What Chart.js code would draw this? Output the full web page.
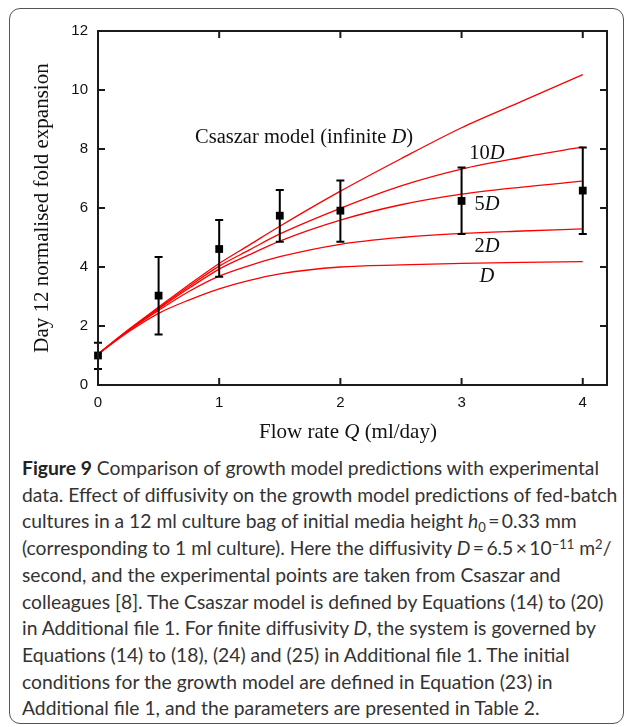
<!DOCTYPE html>
<html>
<head>
<meta charset="utf-8">
<script src="https://cdn.jsdelivr.net/npm/chart.js@4.4.1/dist/chart.umd.min.js"></script>
<style>
  body { margin: 0; background: #fff; }
  #frame {
    position: absolute; left: 9px; top: 8px; width: 615px; height: 716px;
    border: 1.5px solid #555; border-radius: 11px; box-sizing: border-box;
  }
  #plot { position: absolute; left: 0; top: 0; }
  #caption {
    position: absolute; left: 22px; top: 455px;
    font-family: Lato, 'Open Sans', sans-serif; font-size: 19.3px; line-height: 26.7px;
    color: #333; white-space: nowrap;
  }
  #caption b { color: #222; }
  #caption .sub, #caption .sup { font-size: 13px; position: relative; line-height: 0; }
  #caption .sub { top: 0.3em; }
  #caption .sup { top: -0.5em; }
</style>
</head>
<body>
<div id="frame"></div>
<canvas id="plot" width="627" height="450"></canvas>
<div id="caption">
<b>Figure 9</b> Comparison of growth model predictions with experimental<br>
data. Effect of diffusivity on the growth model predictions of fed-batch<br>
cultures in a 12 ml culture bag of initial media height <i>h</i><span class="sub">0</span>&#8201;=&#8201;0.33 mm<br>
(corresponding to 1 ml culture). Here the diffusivity <i>D</i>&#8201;=&#8201;6.5&#8201;×&#8201;10<span class="sup">−11</span> m<span class="sup">2</span>/<br>
second, and the experimental points are taken from Csaszar and<br>
colleagues [8]. The Csaszar model is defined by Equations (14) to (20)<br>
in Additional file 1. For finite diffusivity <i>D</i>, the system is governed by<br>
Equations (14) to (18), (24) and (25) in Additional file 1. The initial<br>
conditions for the growth model are defined in Equation (23) in<br>
Additional file 1, and the parameters are presented in Table 2.
</div>
<script>
// experimental points (Csaszar and colleagues)
var flowRate = [0, 0.5, 1, 1.5, 2, 3, 4];
var foldMean = [1.0, 3.03, 4.61, 5.74, 5.91, 6.24, 6.59];
var foldLow  = [0.54, 1.71, 3.67, 4.86, 4.86, 5.12, 5.12];
var foldHigh = [1.43, 4.34, 5.59, 6.61, 6.93, 7.37, 8.05];

// model curves
var modelQ   = [0, 0.25, 0.5, 0.75, 1, 1.25, 1.5, 2, 2.5, 3, 3.5, 4];
var csaszar  = [1.05, 1.87, 2.64, 3.4, 4.12, 4.75, 5.38, 6.57, 7.67, 8.72, 9.62, 10.52];
var diff10D  = [1.05, 1.86, 2.61, 3.34, 4.03, 4.58, 5.12, 5.99, 6.75, 7.32, 7.72, 8.07];
var diff5D   = [1.05, 1.85, 2.58, 3.28, 3.93, 4.42, 4.88, 5.59, 6.11, 6.47, 6.71, 6.91];
var diff2D   = [1.05, 1.84, 2.53, 3.17, 3.69, 4.05, 4.35, 4.77, 5.0, 5.14, 5.22, 5.29];
var diff1D   = [1.05, 1.8, 2.43, 2.88, 3.26, 3.55, 3.77, 4.0, 4.07, 4.12, 4.16, 4.18];

var xTickValues = [0, 1, 2, 3, 4];

// curve labels: [text before italic, italic part, text after, Q, fold]
var curveLabels = [
    ['Csaszar model (infinite ', 'D', ')', 1.70, 8.38],
    ['10', 'D', '', 3.21, 7.86],
    ['5', 'D', '', 3.21, 6.10],
    ['2', 'D', '', 3.21, 4.69],
    ['', 'D', '', 3.21, 3.66]
];

var serif = "'Liberation Serif', 'Times New Roman', serif";
var sans = "'Liberation Sans', Arial, sans-serif";

function pts(xs, ys) {
    return xs.map(function (x, i) { return { x: x, y: ys[i] }; });
}

function curve(values) {
    return {
        type: 'line',
        data: pts(modelQ, values),
        borderColor: '#ff0000',
        borderWidth: 1.3,
        pointRadius: 0,
        fill: false,
        cubicInterpolationMode: 'monotone'
    };
}

// draws a string with an italic middle part, centred on x
function drawRich(ctx, parts, x, y, size) {
    var fonts = [size + 'px ' + serif, 'italic ' + size + 'px ' + serif, size + 'px ' + serif];
    var widths = parts.map(function (p, i) { ctx.font = fonts[i]; return ctx.measureText(p).width; });
    var cx = x - (widths[0] + widths[1] + widths[2]) / 2;
    ctx.textAlign = 'left';
    ctx.textBaseline = 'middle';
    parts.forEach(function (p, i) {
        ctx.font = fonts[i];
        ctx.fillText(p, cx, y);
        cx += widths[i];
    });
}

var extras = {
    id: 'extras',
    beforeDatasetDraw: function (chart, args) {
        if (args.index !== 0) return;
        var ctx = chart.ctx, xs = chart.scales.x, ys = chart.scales.y;
        ctx.save();
        ctx.strokeStyle = '#000';
        ctx.lineWidth = 2;
        flowRate.forEach(function (q, i) {
            var px = xs.getPixelForValue(q);
            var lo = ys.getPixelForValue(foldLow[i]);
            var hi = ys.getPixelForValue(foldHigh[i]);
            ctx.beginPath();
            ctx.moveTo(px, lo); ctx.lineTo(px, hi);
            ctx.moveTo(px - 4, lo); ctx.lineTo(px + 4, lo);
            ctx.moveTo(px - 4, hi); ctx.lineTo(px + 4, hi);
            ctx.stroke();
        });
        ctx.restore();
    },
    afterDraw: function (chart) {
        var ctx = chart.ctx, a = chart.chartArea, xs = chart.scales.x, ys = chart.scales.y;
        ctx.save();
        ctx.strokeStyle = '#1a1a1a';
        ctx.lineWidth = 2;
        ctx.strokeRect(a.left, a.top, a.right - a.left, a.bottom - a.top);
        ctx.beginPath();
        xs.ticks.forEach(function (t) {
            var px = xs.getPixelForValue(t.value);
            ctx.moveTo(px, a.bottom); ctx.lineTo(px, a.bottom - 7);
            ctx.moveTo(px, a.top); ctx.lineTo(px, a.top + 7);
        });
        ys.ticks.forEach(function (t) {
            var py = ys.getPixelForValue(t.value);
            ctx.moveTo(a.left, py); ctx.lineTo(a.left + 7, py);
            ctx.moveTo(a.right, py); ctx.lineTo(a.right - 7, py);
        });
        ctx.stroke();

        ctx.fillStyle = '#111';
        curveLabels.forEach(function (l) {
            drawRich(ctx, [l[0], l[1], l[2]], xs.getPixelForValue(l[3]), ys.getPixelForValue(l[4]), 20.5);
        });
        // x axis title
        drawRich(ctx, ['Flow rate ', 'Q', ' (ml/day)'], 348, 432, 21);
        ctx.restore();
    }
};

var ctx = document.getElementById('plot').getContext('2d');

var chart = new Chart(ctx, {
    type: 'scatter',
    data: {
        datasets: [{
            label: 'Experiment',
            data: pts(flowRate, foldMean),
            pointStyle: 'rect',
            pointRadius: 5.5,
            pointBackgroundColor: '#000',
            pointBorderWidth: 0,
            clip: false
        },
        curve(csaszar), curve(diff10D), curve(diff5D), curve(diff2D), curve(diff1D)]
    },
    options: {
        responsive: false,
        animation: false,
        layout: { padding: { top: 31, right: 20, left: 0, bottom: 0 } },
        plugins: { legend: { display: false }, tooltip: { enabled: false } },
        scales: {
            x: {
                type: 'linear',
                min: 0,
                max: 4.2,
                grid: { display: false, drawTicks: false },
                border: { display: false },
                ticks: { padding: 9, color: '#111', font: { family: sans, size: 15 } },
                afterBuildTicks: function (axis) {
                    axis.ticks = xTickValues.map(function (v) { return { value: v }; });
                },
                afterFit: function (axis) { axis.height = 65; }
            },
            y: {
                min: 0,
                max: 12,
                grid: { display: false, drawTicks: false },
                border: { display: false },
                ticks: { stepSize: 2, padding: 10, color: '#111', font: { family: sans, size: 15 } },
                title: {
                    display: true,
                    text: 'Day 12 normalised fold expansion',
                    color: '#111',
                    font: { family: serif, size: 21 },
                    padding: { top: 30 }
                },
                afterFit: function (axis) { axis.width = 98; }
            }
        }
    },
    plugins: [extras]
});
</script>
</body>
</html>
